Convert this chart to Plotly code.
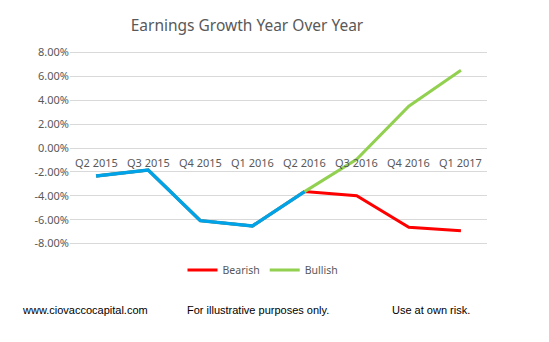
import plotly.graph_objects as go

quarters = ["Q2 2015", "Q3 2015", "Q4 2015", "Q1 2016", "Q2 2016", "Q3 2016", "Q4 2016", "Q1 2017"]
actual = [-2.34, -1.84, -6.08, -6.53, -3.65, None, None, None]
bearish = [-2.34, -1.84, -6.08, -6.53, -3.65, -4.00, -6.64, -6.92]
bullish = [-2.34, -1.84, -6.08, -6.53, -3.65, -0.95, 3.50, 6.50]
yticks = [-8, -6, -4, -2, 0, 2, 4, 6, 8]
ytick_text = ["%.2f%%" % v for v in yticks]

grey = "#595959"
fig = go.Figure()
fig.add_trace(go.Scatter(x=quarters, y=bearish, mode="lines", name="Bearish",
                         line=dict(color="#ff0000", width=3)))
fig.add_trace(go.Scatter(x=quarters, y=bullish, mode="lines", name="Bullish",
                         line=dict(color="#92d050", width=3)))
fig.add_trace(go.Scatter(x=quarters, y=actual, mode="lines", name="Actual",
                         line=dict(color="#00a2e8", width=3.5), showlegend=False))

for q in quarters:
    fig.add_annotation(x=q, y=0, xref="x", yref="y", text=q, showarrow=False,
                       yanchor="top", yshift=-5,
                       font=dict(family="Noto Sans", size=11, color=grey))

fig.add_annotation(x=20, y=310, xref="paper", yref="paper", text="www.ciovaccocapital.com",
                   showarrow=False, xanchor="left", yanchor="middle",
                   font=dict(family="Liberation Sans", size=11, color="#000000"))
fig.add_annotation(x=185, y=310, xref="paper", yref="paper", text="For illustrative purposes only.",
                   showarrow=False, xanchor="left", yanchor="middle",
                   font=dict(family="Liberation Sans", size=11, color="#000000"))
fig.add_annotation(x=390, y=310, xref="paper", yref="paper", text="Use at own risk.",
                   showarrow=False, xanchor="left", yanchor="middle",
                   font=dict(family="Liberation Sans", size=11, color="#000000"))

W, H = 549, 342
L, R, T, B = 70, 62, 50, 96
pw, ph = W - L - R, H - T - B

def px(xp):
    return (xp - L) / pw

def py(yp):
    return (H - B - yp) / ph

for a in fig.layout.annotations:
    if a.xref == "paper":
        a.x = px(a.x)
        a.y = py(a.y)

fig.update_layout(
    width=W, height=H,
    margin=dict(l=L, r=R, t=T, b=B),
    paper_bgcolor="white", plot_bgcolor="white",
    title=dict(text="Earnings Growth Year Over Year", x=247 / W, xanchor="center",
               y=1 - 26 / H, yanchor="middle",
               font=dict(family="Noto Sans", size=15.5, color=grey)),
    xaxis=dict(showticklabels=False, showgrid=False, zeroline=False, showline=False,
               range=[-0.5, 7.5], ticks=""),
    yaxis=dict(range=[-8.2, 8.2], tickvals=yticks, ticktext=ytick_text,
               showgrid=True, gridcolor="#d9d9d9", gridwidth=1, zeroline=False,
               showline=False, ticks="", ticklen=0,
               tickfont=dict(family="Noto Sans", size=11, color=grey)),
    showlegend=True,
    legend=dict(orientation="h", x=px(263), y=py(270), xanchor="center", yanchor="middle",
                font=dict(family="Noto Sans", size=10.5, color=grey), itemwidth=30,
                tracegroupgap=0, bgcolor="rgba(0,0,0,0)"),
)

fig.write_html("out.html")
